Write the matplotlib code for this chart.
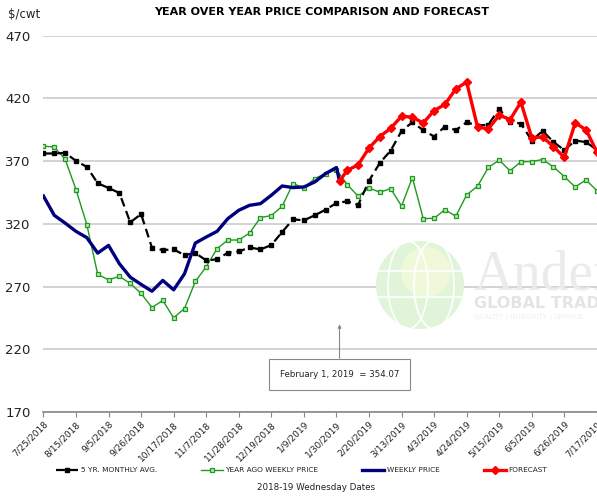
import matplotlib
matplotlib.use('Agg')
import matplotlib.pyplot as plt
import matplotlib.patches as mpatches
import numpy as np
import pandas as pd

# weekly wednesday dates, 7/25/2018 .. 7/17/2019
dates = pd.date_range('2018-07-25', periods=52, freq='7D')
feb1 = pd.Timestamp('2019-02-01')

five_yr_avg = [376.1, 376.1, 376.6, 370.2, 365.4, 352.4, 348.6, 344.6, 321.2, 327.8,
               301.0, 299.1, 299.6, 295.1, 296.7, 290.9, 291.7, 297.0, 298.0, 301.2,
               299.6, 303.1, 313.5, 323.6, 322.8, 326.8, 331.3, 336.6, 338.0, 335.0,
               354.3, 368.6, 378.4, 394.0, 401.0, 394.7, 389.6, 397.6, 394.7, 401.0,
               398.3, 399.1, 411.6, 401.2, 400.0, 386.4, 394.1, 385.3, 378.7, 386.4,
               385.2, 379.0]

year_ago = [381.9, 381.3, 371.5, 347.3, 319.4, 279.7, 275.4, 278.1, 272.5, 264.5,
            253.3, 258.9, 245.1, 252.5, 274.1, 285.8, 300.2, 307.1, 307.1, 312.7,
            325.0, 326.6, 334.0, 352.1, 348.7, 356.1, 360.1, 363.3, 351.3, 342.0,
            348.6, 345.2, 348.1, 334.2, 356.9, 324.2, 324.4, 331.3, 326.1, 343.1,
            350.0, 365.0, 370.8, 362.3, 369.5, 369.7, 371.3, 365.4, 357.7, 349.4,
            355.0, 346.5]

weekly = [342.2, 326.8, 320.6, 314.0, 309.0, 296.7, 302.8, 288.2, 277.5, 271.7,
          266.3, 274.9, 267.4, 280.2, 304.7, 309.5, 314.0, 324.2, 330.8, 334.8,
          336.1, 342.8, 350.2, 348.9, 349.4, 353.4, 360.1, 364.9]
feb1_price = 354.07

forecast = [362.7, 367.0, 380.5, 389.6, 396.2, 405.8, 405.0, 400.4, 410.3, 415.2,
            427.6, 433.0, 397.3, 395.7, 406.7, 403.1, 417.0, 388.7, 389.3, 381.6,
            372.9, 400.5, 395.0, 377.4]

W, H = 597, 496
fig = plt.figure(figsize=(W / 100, H / 100), dpi=100)
ax = fig.add_axes([43.3 / W, 1 - 412 / H, (W - 43.3) / W, (412 - 35.7) / H])

# blue weekly price ends on Feb 1, forecast starts there
weekly_x = list(dates[:len(weekly)]) + [feb1]
weekly_y = weekly + [feb1_price]
fc_x = [feb1] + list(dates[28:28 + len(forecast)])
fc_y = [feb1_price] + forecast

ax.plot(dates, five_yr_avg, color='black', ls=(0, (4, 2.2)), lw=1.6,
        marker='s', ms=3.4, zorder=5, label='5 YR. MONTHLY AVG.')
ax.plot(dates, year_ago, color='#1e9a1e', lw=1.0, marker='s', ms=3.4,
        mfc='#b8e6b0', mec='#1e9a1e', mew=0.9, zorder=4, label='YEAR AGO WEEKLY PRICE')
ax.plot(weekly_x, weekly_y, color='#00007f', lw=2.4, zorder=6, label='WEEKLY PRICE')
ax.plot(fc_x, fc_y, color='#ff0000', lw=2.4, marker='D', ms=4.3, zorder=7,
        label='FORECAST')

ax.set_ylim(170, 470)
ax.set_yticks(np.arange(170, 471, 50))
ax.set_xlim(dates[0] - pd.Timedelta(hours=2), dates[-1] + pd.Timedelta(hours=2))
ax.set_xticks(dates[::3])
ax.set_xticklabels([f'{d.month}/{d.day}/{d.year}' for d in dates[::3]],
                   rotation=45, ha='right', va='top', rotation_mode='anchor', fontsize=6.5)
ax.tick_params(axis='y', length=0, pad=9, labelsize=9.5, labelcolor='#222222')
ax.tick_params(axis='x', length=3.5, color='#888888', pad=2, labelcolor='#222222')
ax.grid(axis='y', color='#cccccc', lw=1.2)
ax.set_axisbelow(True)
for s in ['top', 'right', 'left']:
    ax.spines[s].set_visible(False)
ax.spines['bottom'].set_color('#888888')
ax.spines['bottom'].set_linewidth(1.2)
ax.spines['bottom'].set_zorder(3)

# watermark
tf = fig.transFigure
globe = mpatches.Ellipse((420 / W, 1 - 285 / H), 88 / W, 88 / H, transform=tf,
                         facecolor='#dff4d8', edgecolor='none', zorder=2, clip_on=False)
ax.add_patch(globe)
glow = mpatches.Ellipse((426 / W, 1 - 272 / H), 50 / W, 50 / H, transform=tf,
                        facecolor='#eff9da', edgecolor='none', zorder=2, clip_on=False)
ax.add_patch(glow)
for dx in [-12, 14]:
    ax.add_patch(mpatches.Ellipse(((420 + dx) / W, 1 - 285 / H), 40 / W, 88 / H, transform=tf,
                                  facecolor='none', edgecolor='white', lw=1.2, zorder=2,
                                  clip_on=False))
for dy in [-14, 12]:
    ax.plot([378 / W, 462 / W], [1 - (285 + dy) / H] * 2, transform=tf, color='white',
            lw=1.2, zorder=2, clip_on=False)
fig.text(474 / W, 1 - 289 / H, 'Anderson', family='Liberation Serif', fontsize=40,
         color='#ebebeb', zorder=1)
fig.text(474 / W, 1 - 308 / H, 'GLOBAL TRADING', fontsize=11.5,
         fontweight='bold', color='#e4e4e4', zorder=1)
fig.text(474 / W, 1 - 319 / H, 'QUALITY | INTEGRITY | SERVICE', fontsize=5,
         color='#efefef', zorder=1)

# annotation
ax.annotate('February 1, 2019  = 354.07', xy=(feb1, 240), xytext=(feb1, 200),
            ha='center', va='center', fontsize=6.2, color='#222222',
            bbox=dict(boxstyle='square,pad=1.3', fc='white', ec='#888888', lw=0.8),
            arrowprops=dict(arrowstyle='-|>', color='#888888', lw=0.8,
                            mutation_scale=5, shrinkA=0, shrinkB=0), zorder=8)

fig.text(321.5 / W, 1 - 12 / H, 'YEAR OVER YEAR PRICE COMPARISON AND FORECAST',
         ha='center', va='center', fontsize=8, fontweight='bold')
fig.text(8 / W, 1 - 14 / H, '$/cwt', ha='left', va='center', fontsize=8.5, color='#222222')
fig.text(316 / W, 1 - 488 / H, '2018-19 Wednesday Dates', ha='center', va='center',
         fontsize=6.3, color='#222222')

handles, labels = ax.get_legend_handles_labels()
fig.legend(handles, labels, loc='center', bbox_to_anchor=(301.5 / W, 1 - 470 / H), ncol=4,
           frameon=False, fontsize=5.3, columnspacing=6.0, handlelength=3.0,
           handletextpad=0.3, labelcolor='#222222')

fig.savefig('out.png', dpi=100)
